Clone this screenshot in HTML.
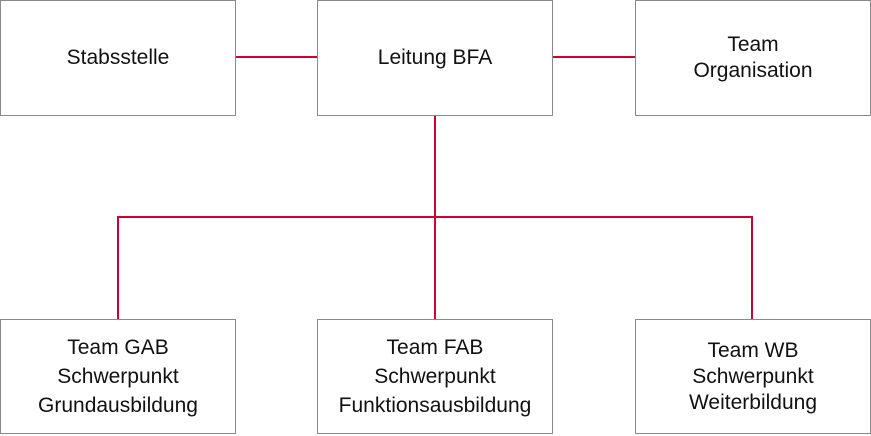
<!DOCTYPE html>
<html><head><style>
body{margin:0;width:871px;height:436px;background:#fff;position:relative;overflow:hidden;font-family:"Liberation Sans",sans-serif;}
.b{position:absolute;box-sizing:border-box;border:1px solid #8a8a8a;background:#fff;display:flex;align-items:center;justify-content:center;text-align:center;font-size:21px;color:#111;line-height:26px;}
svg{position:absolute;left:0;top:0;}
</style></head><body>
<svg width="871" height="436"><g stroke="#cc0033" stroke-width="2" fill="none">
<line x1="235" y1="57" x2="317" y2="57"/>
<line x1="552" y1="57" x2="635" y2="57"/>
<line x1="435" y1="115" x2="435" y2="319"/>
<polyline points="118,319 118,217 752,217 752,319"/>
</g></svg>
<div class="b" style="left:0;top:0;width:236px;height:116px">Stabsstelle</div>
<div class="b" style="left:317px;top:0;width:236px;height:116px">Leitung BFA</div>
<div class="b" style="left:635px;top:0;width:236px;height:116px">Team<br>Organisation</div>
<div class="b" style="left:0;top:319px;width:236px;height:115px;line-height:29px">Team GAB<br>Schwerpunkt<br>Grundausbildung</div>
<div class="b" style="left:317px;top:319px;width:236px;height:115px;line-height:29px">Team FAB<br>Schwerpunkt<br>Funktionsausbildung</div>
<div class="b" style="left:635px;top:319px;width:236px;height:115px;line-height:26px">Team WB<br>Schwerpunkt<br>Weiterbildung</div>
</body></html>
